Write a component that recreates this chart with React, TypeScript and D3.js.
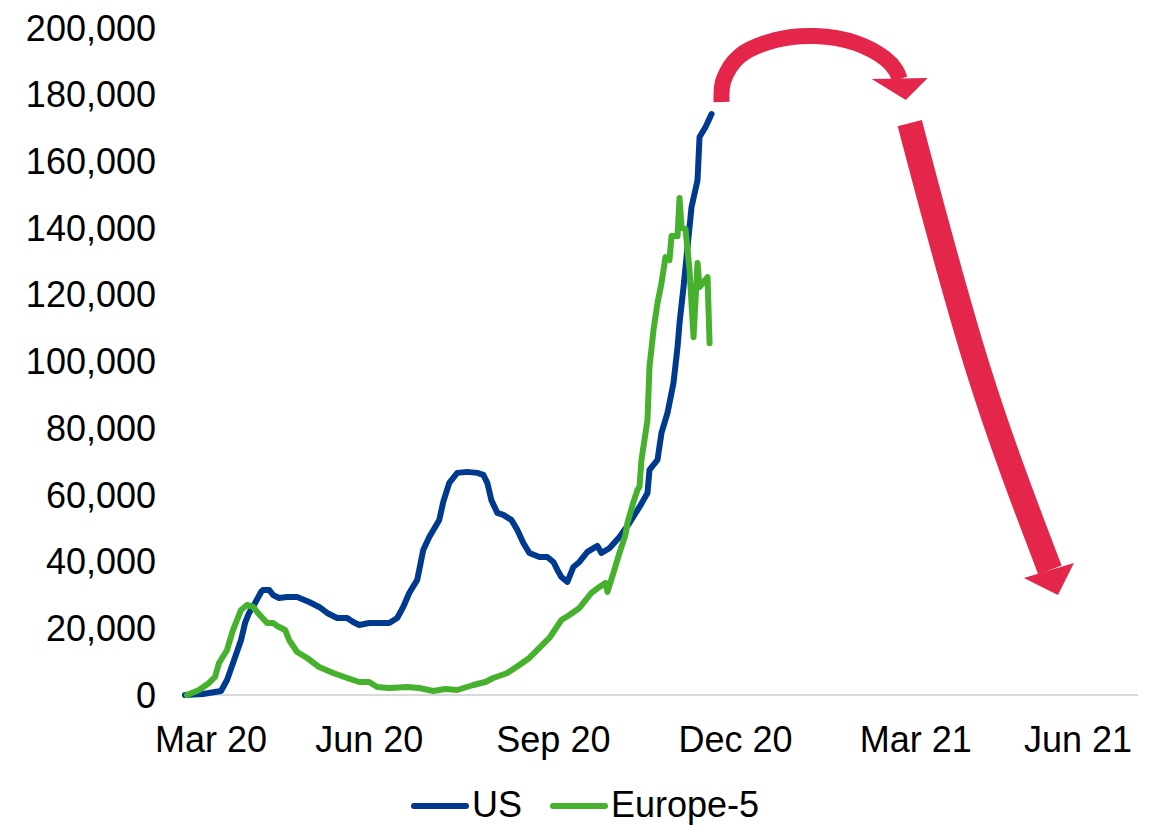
import React from "react";
import * as d3 from "d3";

// ---- data ----
const usDates = [
  "2020-03-01","2020-03-10","2020-03-19","2020-03-22","2020-03-25","2020-03-29","2020-03-31",
  "2020-04-02","2020-04-05","2020-04-08","2020-04-09","2020-04-12","2020-04-14","2020-04-17","2020-04-21","2020-04-26",
  "2020-05-02","2020-05-07","2020-05-11","2020-05-16","2020-05-21","2020-05-24","2020-05-27",
  "2020-06-01","2020-06-06","2020-06-11","2020-06-15","2020-06-18","2020-06-21","2020-06-25","2020-06-28",
  "2020-07-01","2020-07-06","2020-07-08","2020-07-11","2020-07-15","2020-07-20","2020-07-25","2020-07-28","2020-07-30",
  "2020-08-01","2020-08-04","2020-08-07","2020-08-11","2020-08-14","2020-08-17","2020-08-20","2020-08-25","2020-08-29",
  "2020-09-01","2020-09-03","2020-09-05","2020-09-08","2020-09-11","2020-09-14","2020-09-18","2020-09-23","2020-09-25","2020-09-29",
  "2020-10-04","2020-10-09","2020-10-14","2020-10-18","2020-10-19","2020-10-23","2020-10-25","2020-10-28","2020-10-31",
  "2020-11-02","2020-11-03","2020-11-05","2020-11-07","2020-11-09","2020-11-12","2020-11-13","2020-11-16","2020-11-19"
];
const usValues = [
  0, 300, 1200, 4500, 9600, 16500, 21600,
  24600, 27600, 30900, 31500, 31500, 30000, 29100, 29400, 29400,
  27900, 26400, 24600, 23100, 23100, 21900, 21000,
  21600, 21600, 21600, 23100, 26400, 30600, 34500, 43500,
  47400, 52500, 57900, 63600, 66600, 66900, 66600, 66000, 63600,
  58500, 54600, 54000, 52500, 49500, 45600, 42600, 41400, 41400,
  39900, 37500, 35400, 33900, 38400, 39900, 42900, 44700, 42600, 44000,
  47400, 51600, 56400, 60600, 67500, 70500, 78600, 84600, 93600,
  104300, 111500, 122300, 134300, 146300, 154400, 167300, 170300, 174200
];

const euDates = [
  "2020-03-02","2020-03-08","2020-03-13","2020-03-16","2020-03-18","2020-03-22","2020-03-25","2020-03-27","2020-03-29",
  "2020-04-01","2020-04-04","2020-04-06","2020-04-11","2020-04-14","2020-04-16","2020-04-20","2020-04-22","2020-04-26",
  "2020-05-01","2020-05-07","2020-05-14","2020-05-21","2020-05-27",
  "2020-06-01","2020-06-05","2020-06-11","2020-06-20","2020-06-26",
  "2020-07-03","2020-07-09","2020-07-15","2020-07-23","2020-07-29",
  "2020-08-02","2020-08-09","2020-08-15","2020-08-20","2020-08-25","2020-08-30",
  "2020-09-05","2020-09-09","2020-09-14","2020-09-20","2020-09-24","2020-09-27","2020-09-28",
  "2020-10-01","2020-10-04","2020-10-07","2020-10-08","2020-10-11","2020-10-13","2020-10-14","2020-10-15","2020-10-18",
  "2020-10-19","2020-10-21","2020-10-23","2020-10-25","2020-10-27","2020-10-29","2020-10-30",
  "2020-11-02","2020-11-03","2020-11-04","2020-11-06","2020-11-08","2020-11-10","2020-11-12","2020-11-13","2020-11-17","2020-11-18"
];
const euValues = [
  0, 1500, 3600, 5400, 9600, 13500, 19500, 22500, 25500,
  27000, 26400, 24900, 21600, 21600, 20700, 19500, 16500, 12900,
  11100, 8400, 6600, 5100, 3900,
  3900, 2400, 2100, 2400, 2100,
  1200, 1800, 1500, 3000, 3900,
  5100, 6600, 9000, 11100, 14100, 17100,
  22500, 24000, 26100, 30600, 32400, 33600, 30900,
  36600, 42600, 48000, 51600, 57900, 61500, 62400, 70500, 82500,
  98400, 109400, 117500, 123500, 131300, 130400, 137600,
  137600, 149000, 140300, 139700, 127400, 107300, 129500, 122300, 125300, 105500
];

const seriesNames = ["US", "Europe-5"];
const seriesColors = ["#003A8F", "#46B12C"];
const arrowColor = "#E3264A";

const yTicks = [0, 20000, 40000, 60000, 80000, 100000, 120000, 140000, 160000, 180000, 200000];
const xTickDates = ["2020-03-01", "2020-06-01", "2020-09-01", "2020-12-01", "2021-03-01", "2021-06-01"];
const xTickLabels = ["Mar 20", "Jun 20", "Sep 20", "Dec 20", "Mar 21", "Jun 21"];
const xDomain = ["2020-03-01", "2021-06-20"];

// annotation arrows, placed in data space
const arcArrowDates = ["2020-11-24","2020-11-25","2020-12-03","2020-12-21","2021-01-10","2021-01-30","2021-02-14","2021-02-19","2021-02-21"];
const arcArrowValues = [177800, 184400, 191600, 196400, 197600, 195500, 190700, 187400, 184700];
const arcHeadDates = ["2021-02-07", "2021-03-07", "2021-02-24"];
const arcHeadValues = [184700, 185000, 178400];

const downArrowDates = ["2021-02-26", "2021-04-01", "2021-05-07"];
const downArrowValues = [171500, 98000, 37500];
const downHeadDates = ["2021-04-24", "2021-05-19", "2021-05-11"];
const downHeadValues = [35100, 39600, 30000];

const W = 1157;
const H = 826;
const FONT = "'Liberation Sans', Arial, sans-serif";

export default function App() {
  const parse = d3.timeParse("%Y-%m-%d");
  const p = (s: string) => parse(s) as Date;

  const x = d3.scaleTime().domain(xDomain.map(p)).range([185, 1138]);
  const y = d3.scaleLinear().domain([0, 200000]).range([695, 28]);

  const line = d3
    .line<[Date, number]>()
    .x((d) => x(d[0]))
    .y((d) => y(d[1]));

  const us: [Date, number][] = usDates.map((d, i) => [p(d), usValues[i]]);
  const eu: [Date, number][] = euDates.map((d, i) => [p(d), euValues[i]]);

  const curve = d3
    .line<[Date, number]>()
    .x((d) => x(d[0]))
    .y((d) => y(d[1]))
    .curve(d3.curveCatmullRom.alpha(0.5));

  const smooth = d3
    .line<[Date, number]>()
    .x((d) => x(d[0]))
    .y((d) => y(d[1]))
    .curve(d3.curveNatural);

  const arc: [Date, number][] = arcArrowDates.map((d, i) => [p(d), arcArrowValues[i]]);
  const arcHead: [Date, number][] = arcHeadDates.map((d, i) => [p(d), arcHeadValues[i]]);
  const down: [Date, number][] = downArrowDates.map((d, i) => [p(d), downArrowValues[i]]);
  const downHead: [Date, number][] = downHeadDates.map((d, i) => [p(d), downHeadValues[i]]);

  const poly = (pts: [Date, number][]) =>
    pts.map((d) => `${x(d[0])},${y(d[1])}`).join(" ");

  const xr = x.range();
  const fs = 36;

  return (
    <svg
      width={W}
      height={H}
      style={{ position: "absolute", left: 0, top: 0, display: "block", background: "#fff" }}
      fontFamily={FONT}
    >
      {/* axis line */}
      <line x1={xr[0] - 2} x2={xr[1]} y1={y(0)} y2={y(0)} stroke="#D9D9D9" strokeWidth={2} />

      {/* y tick labels */}
      {yTicks.map((t) => (
        <text
          key={t}
          x={156}
          y={y(t)}
          dy="0.35em"
          textAnchor="end"
          fontSize={fs}
          fill="#000"
        >
          {d3.format(",")(t)}
        </text>
      ))}

      {/* x tick labels */}
      {xTickDates.map((d, i) => {
        const last = i === xTickDates.length - 1;
        const first = i === 0;
        const px = x(p(d));
        const anchor = first ? "start" : last ? "end" : "middle";
        const tx = first ? px - 30 : last ? xr[1] - 6 : px;
        return (
          <text key={d} x={tx} y={752} textAnchor={anchor} fontSize={fs} fill="#000">
            {xTickLabels[i]}
          </text>
        );
      })}

      {/* series */}
      <path d={line(us) || ""} fill="none" stroke={seriesColors[0]} strokeWidth={6} strokeLinejoin="round" strokeLinecap="round" />
      <path d={line(eu) || ""} fill="none" stroke={seriesColors[1]} strokeWidth={6} strokeLinejoin="round" strokeLinecap="round" />

      {/* arrows */}
      <path d={curve(arc) || ""} fill="none" stroke={arrowColor} strokeWidth={16} />
      <polygon points={poly(arcHead)} fill={arrowColor} />
      <path d={smooth(down) || ""} fill="none" stroke={arrowColor} strokeWidth={25} />
      <polygon points={poly(downHead)} fill={arrowColor} />

      {/* legend */}
      <g>
        <line x1={414} x2={466} y1={806} y2={806} stroke={seriesColors[0]} strokeWidth={6} strokeLinecap="round" />
        <text x={472} y={817} fontSize={fs} fill="#000">{seriesNames[0]}</text>
        <line x1={553} x2={605} y1={806} y2={806} stroke={seriesColors[1]} strokeWidth={6} strokeLinecap="round" />
        <text x={611} y={817} fontSize={fs} fill="#000">{seriesNames[1]}</text>
      </g>
    </svg>
  );
}
